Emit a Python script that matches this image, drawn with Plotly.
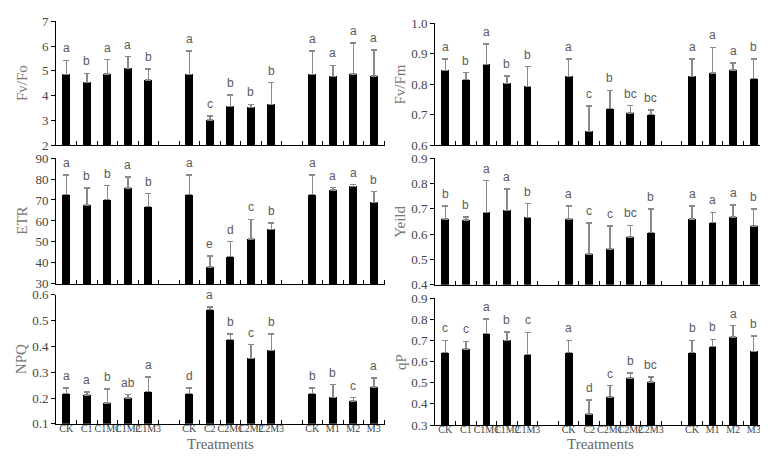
import plotly.graph_objects as go

# slot positions: 3 treatment groups separated by an empty slot
slots = [0, 1, 2, 3, 4, 6, 7, 8, 9, 10, 12, 13, 14, 15]
treatments = ["CK", "C1", "C1M1", "C1M2", "C1M3",
              "CK", "C2", "C2M1", "C2M2", "C2M3",
              "CK", "M1", "M2", "M3"]

fvfo = [4.85, 4.53, 4.87, 5.10, 4.63, 4.85, 3.02, 3.57, 3.53, 3.65, 4.85, 4.77, 4.88, 4.80]
fvfo_sd = [0.57, 0.37, 0.58, 0.47, 0.45, 0.95, 0.15, 0.45, 0.12, 0.87, 0.95, 0.45, 1.25, 1.05]
fvfo_sig = ["a", "b", "a", "a", "b", "a", "c", "b", "b", "b", "a", "a", "a", "a"]

fvfm = [0.845, 0.815, 0.865, 0.802, 0.793, 0.825, 0.645, 0.720, 0.705, 0.700, 0.825, 0.836, 0.847, 0.818]
fvfm_sd = [0.037, 0.023, 0.067, 0.025, 0.064, 0.057, 0.083, 0.060, 0.025, 0.016, 0.057, 0.084, 0.023, 0.065]
fvfm_sig = ["a", "b", "a", "b", "b", "a", "c", "b", "bc", "bc", "a", "a", "a", "b"]

etr = [72.5, 67.5, 70.2, 75.8, 66.8, 72.5, 38.0, 43.0, 51.5, 56.0, 72.5, 74.7, 76.5, 68.8]
etr_sd = [9.3, 8.3, 6.7, 5.1, 6.2, 9.3, 5.3, 7.2, 9.3, 3.1, 9.3, 1.2, 0.8, 5.2]
etr_sig = ["a", "b", "b", "a", "b", "a", "e", "d", "c", "b", "a", "a", "a", "b"]

yeild = [0.659, 0.656, 0.686, 0.693, 0.666, 0.659, 0.521, 0.542, 0.588, 0.606, 0.659, 0.645, 0.668, 0.632]
yeild_sd = [0.051, 0.012, 0.125, 0.084, 0.054, 0.052, 0.122, 0.089, 0.046, 0.093, 0.052, 0.041, 0.047, 0.066]
yeild_sig = ["b", "b", "a", "a", "b", "a", "c", "c", "bc", "b", "a", "a", "a", "b"]

npq = [0.218, 0.211, 0.180, 0.200, 0.226, 0.217, 0.543, 0.426, 0.354, 0.385, 0.218, 0.203, 0.189, 0.243]
npq_sd = [0.021, 0.012, 0.056, 0.013, 0.056, 0.022, 0.009, 0.022, 0.053, 0.063, 0.021, 0.049, 0.013, 0.034]
npq_sig = ["a", "a", "b", "ab", "a", "d", "a", "b", "c", "b", "b", "b", "c", "a"]

qp = [0.642, 0.658, 0.732, 0.700, 0.633, 0.642, 0.353, 0.433, 0.521, 0.503, 0.642, 0.670, 0.715, 0.648]
qp_sd = [0.058, 0.037, 0.068, 0.040, 0.105, 0.058, 0.064, 0.053, 0.025, 0.024, 0.058, 0.035, 0.055, 0.072]
qp_sig = ["c", "c", "a", "b", "c", "a", "d", "c", "b", "bc", "b", "b", "a", "b"]

panels = [
    dict(title="Fv/Fo", y=fvfo, sd=fvfo_sd, sig=fvfo_sig, rng=[2, 7], dtick=1, fmt="d",
         xdom=[0.0625, 0.491], ydom=[0.699, 0.971], tx=0.018),
    dict(title="Fv/Fm", y=fvfm, sd=fvfm_sd, sig=fvfm_sig, rng=[0.6, 1.0], dtick=0.1, fmt=".1f",
         xdom=[0.556, 0.9857], ydom=[0.699, 0.967], tx=0.511),
    dict(title="ETR", y=etr, sd=etr_sd, sig=etr_sig, rng=[30, 90], dtick=10, fmt="d",
         xdom=[0.0625, 0.491], ydom=[0.395, 0.671], tx=0.018),
    dict(title="Yeild", y=yeild, sd=yeild_sd, sig=yeild_sig, rng=[0.4, 0.9], dtick=0.1, fmt=".1f",
         xdom=[0.556, 0.9857], ydom=[0.393, 0.671], tx=0.511),
    dict(title="NPQ", y=npq, sd=npq_sd, sig=npq_sig, rng=[0.1, 0.6], dtick=0.1, fmt=".1f",
         xdom=[0.0625, 0.491], ydom=[0.088, 0.371], tx=0.018),
    dict(title="qP", y=qp, sd=qp_sd, sig=qp_sig, rng=[0.3, 0.9], dtick=0.1, fmt=".1f",
         xdom=[0.556, 0.9857], ydom=[0.0855, 0.364], tx=0.511),
]

serif = "Liberation Serif, Times New Roman, serif"
sans = "Liberation Sans, Arial, sans-serif"
grey = "#5a5a5a"

fig = go.Figure()
layout = {}
annotations = []

for i, p in enumerate(panels):
    n = "" if i == 0 else str(i + 1)
    fig.add_trace(go.Bar(
        x=slots, y=p["y"], width=0.38,
        marker=dict(color="black", line=dict(width=0)),
        error_y=dict(type="data", array=p["sd"], arrayminus=[0] * len(p["sd"]),
                     symmetric=False, color="#8a8a8a", thickness=1.5, width=3),
        xaxis="x" + n, yaxis="y" + n, showlegend=False,
    ))

    bottom = i >= 4
    layout["xaxis" + n] = dict(
        domain=p["xdom"], anchor="y" + n, range=[-0.5, 15.55],
        tickmode="array", tickvals=slots, ticktext=treatments,
        showticklabels=bottom, ticks="", ticklen=0, tickangle=0,
        ticklabelstandoff=-5,
        tickfont=dict(family=serif, size=10, color="#444"),
        minor=dict(tickmode="array", tickvals=[k + 0.5 for k in range(16)],
                   ticks="inside", ticklen=4, tickcolor="black", tickwidth=1),
        showline=True, linecolor="black", linewidth=1,
        showgrid=False, zeroline=False, fixedrange=True,
    )
    layout["yaxis" + n] = dict(
        domain=p["ydom"], anchor="x" + n, range=p["rng"],
        dtick=p["dtick"], tick0=p["rng"][0], tickformat=p["fmt"],
        ticks="outside", ticklen=4, tickcolor="black",
        tickfont=dict(family=serif, size=13, color="#444"),
        showline=True, linecolor="black", linewidth=1,
        showgrid=False, zeroline=False, fixedrange=True,
    )

    # axis title
    annotations.append(dict(
        text=p["title"], xref="paper", yref="paper", x=p["tx"],
        y=sum(p["ydom"]) / 2, xanchor="center", yanchor="middle",
        textangle=-90, showarrow=False,
        font=dict(family=serif, size=15, color="#777"),
    ))

    # significance letters above error bars
    for xs, m, s, lab in zip(slots, p["y"], p["sd"], p["sig"]):
        annotations.append(dict(
            text=lab, x=xs, y=m + s, xref="x" + n, yref="y" + n,
            yanchor="bottom", yshift=3, showarrow=False,
            font=dict(family=sans, size=12, color=grey),
        ))

for xc in [0.2766, 0.7709]:
    annotations.append(dict(
        text="Treatments", xref="paper", yref="paper", x=xc, y=0.044,
        xanchor="center", yanchor="middle",
        showarrow=False, font=dict(family=serif, size=15, color="#666"),
    ))

fig.update_layout(
    **layout,
    annotations=annotations,
    width=768, height=456,
    margin=dict(l=0, r=0, t=0, b=0, autoexpand=False),
    paper_bgcolor="white", plot_bgcolor="white",
    bargap=0,
)

fig.write_html("out.html", config=dict(displayModeBar=False))
